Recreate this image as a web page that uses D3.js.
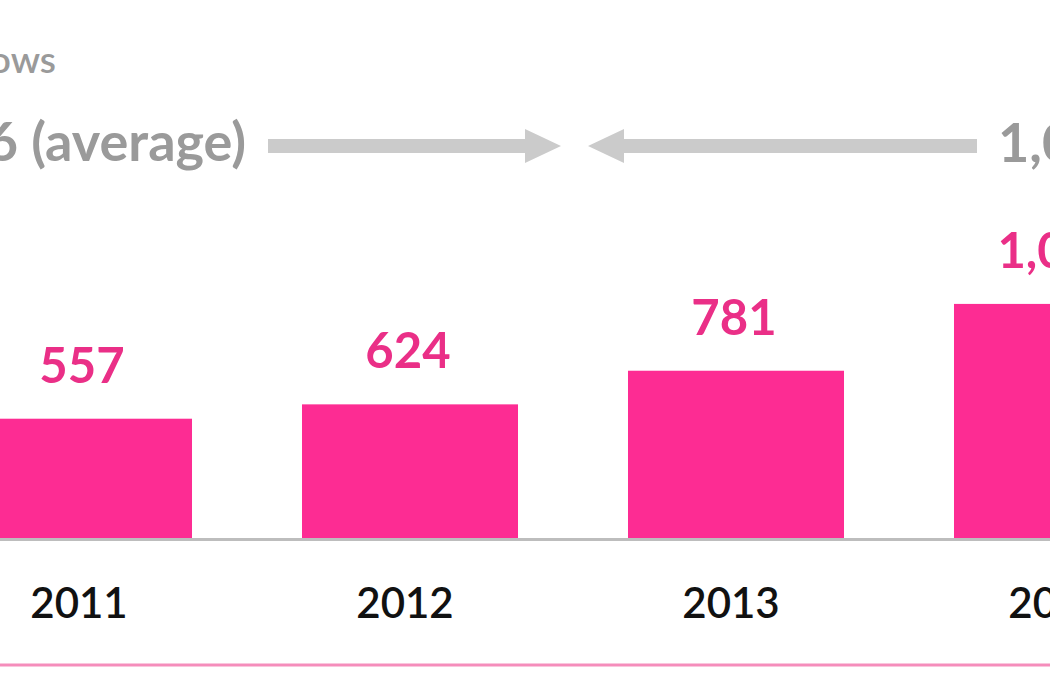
<!DOCTYPE html>
<html>
<head>
<meta charset="utf-8">
<script src="https://cdn.jsdelivr.net/npm/d3@7"></script>
<style>
  html, body { margin: 0; padding: 0; background: #fff; overflow: hidden; }
  svg { display: block; }
</style>
</head>
<body>
<svg id="chart" width="1050" height="700"></svg>
<script>
// ---- data ----
const years = ["2011", "2012", "2013", "2014"];
const values = [557, 624, 781, 1093];
const valueLabels = ["557", "624", "781", "1,093"];
const titleText = "Number of shows";
const averageLabels = ["596 (average)", "1,049 (average)"];

// ---- layout ----
const svg = d3.select("#chart");
const W = 1050, H = 700;
const baseY = 538;

const x = d3.scaleBand()
  .domain(years)
  .range([-79, -79 + 326 * years.length])
  .paddingInner(0.3374)
  .paddingOuter(0.1687);

const y = d3.scaleLinear().domain([0, 1200]).range([baseY, 281]);

const pink = "#fd2c93";
const pinkText = "#ea2f87";
const grayText = "#9a9a9a";
const arrowGray = "#cbcbcb";
const fontFam = "Lato, 'Open Sans', sans-serif";

// title (partly cut off)
svg.append("text")
  .attr("x", 56).attr("y", 73)
  .attr("text-anchor", "end")
  .attr("font-family", fontFam)
  .attr("font-weight", 600)
  .attr("font-size", 37)
  .attr("fill", grayText)
  .text(titleText);

// average labels
svg.append("text")
  .attr("x", 246).attr("y", 161)
  .attr("text-anchor", "end")
  .attr("font-family", fontFam)
  .attr("font-weight", 700)
  .attr("font-size", 54)
  .attr("fill", grayText)
  .text(averageLabels[0]);

svg.append("text")
  .attr("x", 998).attr("y", 162)
  .attr("text-anchor", "start")
  .attr("font-family", fontFam)
  .attr("font-weight", 700)
  .attr("font-size", 54)
  .attr("fill", grayText)
  .text(averageLabels[1]);

// arrows
const ay = 146, shaft = 14, headH = 34, headL = 36;
function arrowPath(x0, x1) {
  const dir = x1 > x0 ? 1 : -1;
  const hb = x1 - dir * headL;
  return `M${x0},${ay - shaft/2} L${hb},${ay - shaft/2} L${hb},${ay - headH/2} L${x1},${ay} L${hb},${ay + headH/2} L${hb},${ay + shaft/2} L${x0},${ay + shaft/2} Z`;
}
svg.append("path").attr("d", arrowPath(268, 561)).attr("fill", arrowGray);
svg.append("path").attr("d", arrowPath(977, 588)).attr("fill", arrowGray);

// bars
svg.selectAll("rect.bar")
  .data(years)
  .join("rect")
  .attr("class", "bar")
  .attr("x", d => x(d))
  .attr("width", x.bandwidth())
  .attr("y", (d, i) => y(values[i]))
  .attr("height", (d, i) => baseY - y(values[i]))
  .attr("fill", pink);

// value labels
svg.selectAll("text.val")
  .data(years)
  .join("text")
  .attr("class", "val")
  .attr("x", d => x(d) + x.bandwidth() / 2 - 2)
  .attr("y", (d, i) => y(values[i]) - 36)
  .attr("text-anchor", "middle")
  .attr("font-family", fontFam)
  .attr("font-weight", 700)
  .attr("font-size", 49)
  .attr("fill", pinkText)
  .text((d, i) => valueLabels[i]);

// baseline
svg.append("line")
  .attr("x1", 0).attr("x2", W)
  .attr("y1", baseY + 1.5).attr("y2", baseY + 1.5)
  .attr("stroke", "#bdbdbd").attr("stroke-width", 3);

// x axis labels
const xAxis = d3.axisBottom(x).tickSize(0).tickPadding(0);
const gx = svg.append("g").attr("transform", `translate(-5, 0)`).call(xAxis);
gx.select(".domain").remove();
gx.selectAll("text")
  .attr("y", 618)
  .attr("dy", 0)
  .attr("font-family", fontFam)
  .attr("font-weight", 600)
  .attr("font-size", 42)
  .attr("fill", "#111");

// bottom pink rule
svg.append("line")
  .attr("x1", 0).attr("x2", W)
  .attr("y1", 665).attr("y2", 665)
  .attr("stroke", "#f58dbb").attr("stroke-width", 3);
</script>
</body>
</html>
